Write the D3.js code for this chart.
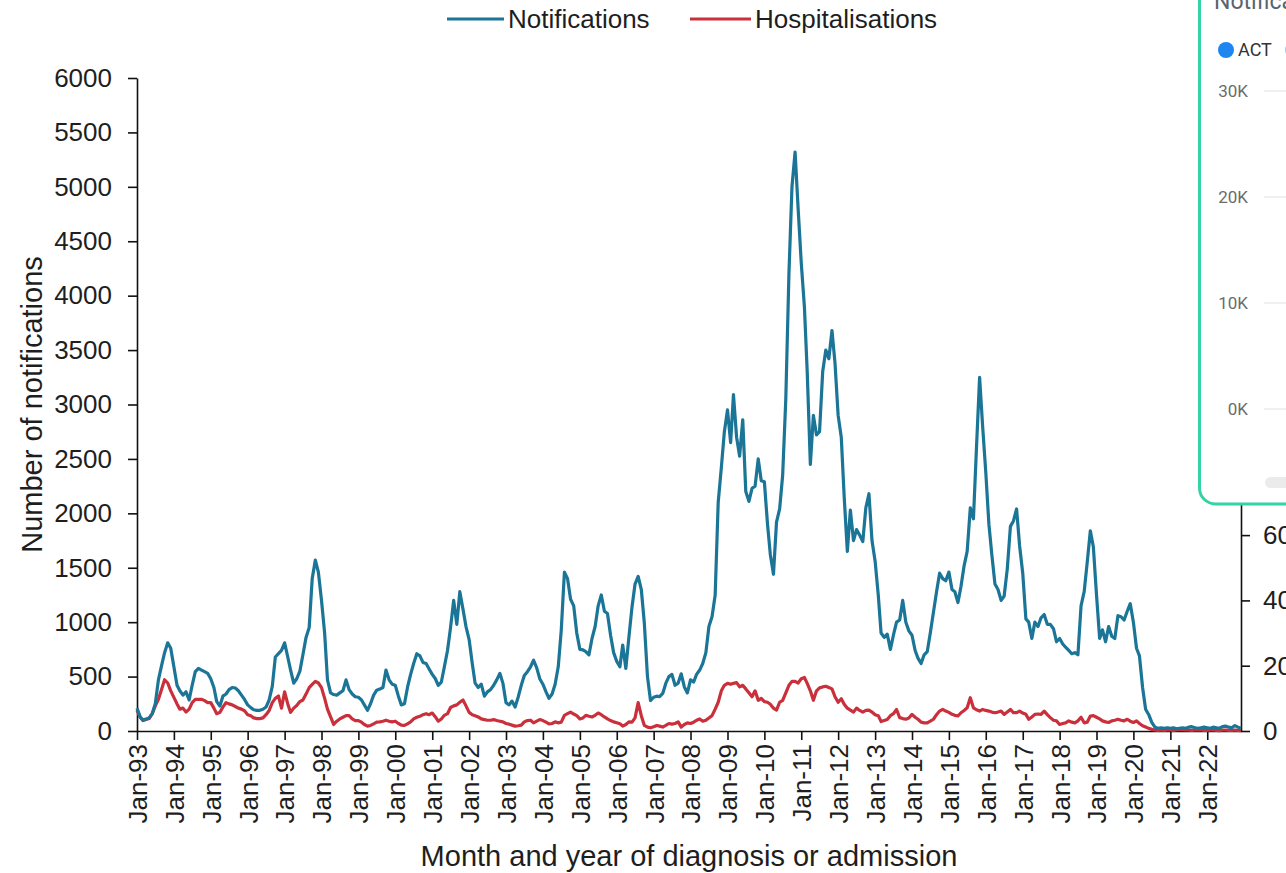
<!DOCTYPE html>
<html>
<head>
<meta charset="utf-8">
<script src="https://cdn.jsdelivr.net/npm/d3@7"></script>
<style>
  html, body { margin: 0; padding: 0; background: #fff; overflow: hidden; }
  svg { display: block; font-family: "Liberation Sans", Arial, sans-serif; }
</style>
</head>
<body>
<svg id="chart" width="1286" height="873"></svg>
<script>
// Monthly counts, January 1993 to December 2022 (one row per year)
const notifications = [
  210, 130, 100, 110, 120, 160, 250, 470, 600, 720, 810, 760,       // 1993
  590, 420, 370, 330, 360, 285, 420, 545, 575, 560, 545, 530,       // 1994
  480, 400, 270, 230, 320, 340, 380, 400, 395, 370, 330, 290,       // 1995
  240, 215, 195, 190, 190, 200, 220, 285, 410, 680, 710, 740,       // 1996
  810, 680, 560, 440, 480, 550, 700, 860, 950, 1400, 1570, 1460,    // 1997
  1200, 900, 470, 350, 335, 330, 350, 370, 470, 380, 340, 315,      // 1998
  310, 285, 240, 190, 250, 330, 375, 385, 400, 560, 470, 430,       // 1999
  420, 320, 240, 250, 400, 520, 620, 710, 690, 630, 620, 570,       // 2000
  520, 480, 420, 450, 590, 740, 950, 1200, 980, 1280, 1120, 960,    // 2001
  840, 620, 440, 400, 430, 320, 360, 380, 420, 470, 530, 440,       // 2002
  260, 240, 275, 220, 310, 420, 510, 545, 590, 650, 580, 480,       // 2003
  430, 360, 300, 340, 430, 590, 930, 1460, 1400, 1210, 1150, 900,   // 2004
  750, 745, 730, 700, 850, 960, 1150, 1250, 1100, 1080, 880, 720,   // 2005
  640, 590, 790, 575, 860, 1140, 1350, 1420, 1300, 990, 500, 280,   // 2006
  310, 320, 315, 345, 437, 500, 520, 420, 440, 525, 405, 350,       // 2007
  470, 450, 520, 560, 620, 720, 960, 1050, 1250, 2100, 2420, 2750,  // 2008
  2950, 2650, 3090, 2700, 2525, 2860, 2200, 2110, 2230, 2250, 2500, 2300, // 2009
  2290, 1900, 1620, 1440, 1920, 2040, 2350, 3050, 4200, 5000, 5320, 4800, // 2010
  4300, 3900, 3300, 2450, 2900, 2720, 2750, 3300, 3500, 3420, 3680, 3380, // 2011
  2900, 2700, 2150, 1650, 2030, 1750, 1850, 1800, 1740, 2050, 2180, 1750, // 2012
  1560, 1250, 900, 860, 890, 750, 880, 1000, 1020, 1200, 1000, 920,       // 2013
  880, 740, 670, 620, 700, 730, 900, 1090, 1280, 1450, 1400, 1380,        // 2014
  1460, 1300, 1280, 1180, 1330, 1520, 1650, 2050, 1950, 2600, 3250, 2800, // 2015
  2380, 1900, 1620, 1350, 1300, 1200, 1240, 1490, 1880, 1930, 2040, 1700, // 2016
  1450, 1030, 1000, 850, 1000, 960, 1040, 1070, 980, 980, 940, 820,       // 2017
  850, 800, 770, 740, 710, 720, 700, 1150, 1280, 1550, 1840, 1690,        // 2018
  1250, 850, 930, 820, 960, 870, 850, 1060, 1050, 1020, 1100, 1170,       // 2019
  1000, 760, 690, 400, 200, 150, 80, 35, 25, 30, 25, 30,                  // 2020
  25, 30, 20, 25, 30, 25, 35, 40, 30, 25, 30, 35,                         // 2021
  30, 25, 35, 30, 25, 40, 45, 35, 30, 50, 35, 25                          // 2022
];

const hospitalisations = [
  63, 42, 32, 35, 38, 53, 77, 97, 127, 157, 147, 123,       // 1993
  103, 83, 67, 70, 58, 67, 87, 97, 97, 97, 93, 87,          // 1994
  87, 70, 53, 57, 73, 87, 83, 80, 75, 70, 67, 62,           // 1995
  50, 47, 40, 38, 38, 40, 50, 63, 87, 100, 107, 70,         // 1996
  120, 83, 57, 70, 78, 90, 95, 113, 133, 143, 152, 147,     // 1997
  133, 100, 67, 43, 20, 30, 37, 42, 47, 47, 37, 32,         // 1998
  32, 27, 20, 15, 17, 22, 27, 28, 30, 33, 30, 28,           // 1999
  30, 23, 18, 17, 22, 28, 37, 42, 45, 50, 53, 50,           // 2000
  55, 43, 30, 37, 48, 53, 72, 77, 80, 88, 95, 77,           // 2001
  57, 50, 47, 43, 37, 35, 33, 33, 35, 32, 30, 28,           // 2002
  23, 21, 18, 15, 16, 18, 28, 32, 33, 25, 30, 35,           // 2003
  32, 27, 22, 23, 28, 25, 27, 48, 53, 58, 52, 47,           // 2004
  37, 40, 48, 45, 43, 48, 55, 50, 43, 37, 32, 28,           // 2005
  25, 22, 15, 20, 28, 27, 40, 87, 47, 17, 12, 10,           // 2006
  13, 17, 15, 12, 17, 23, 21, 23, 28, 12, 20, 25,           // 2007
  23, 27, 33, 37, 30, 33, 40, 47, 67, 88, 123, 140,         // 2008
  146, 143, 146, 148, 135, 140, 129, 117, 105, 123, 94, 100, // 2009
  90, 88, 82, 70, 64, 88, 94, 117, 140, 152, 152, 147,      // 2010
  160, 164, 146, 123, 94, 123, 132, 135, 137, 133, 129, 105, // 2011
  88, 99, 82, 70, 64, 58, 70, 63, 58, 63, 64, 58,           // 2012
  50, 47, 29, 32, 35, 47, 53, 66, 41, 38, 36, 40,           // 2013
  51, 42, 36, 27, 25, 25, 30, 36, 50, 61, 66, 61,           // 2014
  57, 51, 48, 46, 56, 63, 71, 102, 71, 65, 61, 66,          // 2015
  63, 61, 58, 56, 58, 61, 51, 58, 66, 56, 56, 61,           // 2016
  55, 51, 36, 43, 51, 52, 51, 61, 50, 41, 33, 31,           // 2017
  20, 23, 25, 31, 27, 25, 31, 42, 25, 27, 46, 47,           // 2018
  42, 37, 31, 28, 26, 31, 33, 36, 33, 31, 36, 30,           // 2019
  26, 31, 23, 16, 12, 8, 5, 3, 2, 3, 2, 3,                  // 2020
  3, 2, 3, 5, 4, 3, 3, 2, 3, 4, 3, 2,                       // 2021
  2, 3, 3, 2, 1, 3, 3, 2, 2, 3, 2, 1                        // 2022
];

const seriesNames = ["Notifications", "Hospitalisations"];
const seriesColors = ["#1b7596", "#c9303b"];
const leftTicks = [0, 500, 1000, 1500, 2000, 2500, 3000, 3500, 4000, 4500, 5000, 5500, 6000];
// right-hand (hospitalisations) axis runs 0-2000; the labels above 600 sit under the inset
const rightTicks = [0, 200, 400, 600];
const yearTicks = ["1993","1994","1995","1996","1997","1998","1999","2000","2001","2002",
  "2003","2004","2005","2006","2007","2008","2009","2010","2011","2012",
  "2013","2014","2015","2016","2017","2018","2019","2020","2021","2022"];

// Inset widget (state breakdown) that sits over the top-right corner
const insetTicks = [0, 10000, 20000, 30000];
const insetTickLabels = ["0K", "10K", "20K", "30K"];
const insetSeries = ["ACT"];

const months = d3.timeMonth.range(new Date(1993, 0, 1), new Date(2023, 0, 1));
const textColor = "#1e1e1e";

const svg = d3.select("#chart");
svg.append("rect").attr("width", 1286).attr("height", 873).attr("fill", "#fff");

const x = d3.scaleTime().domain([months[0], months[months.length - 1]]).range([137, 1241]);
const yL = d3.scaleLinear().domain([0, 6000]).range([731, 78]);
const yR = d3.scaleLinear().domain([0, 2000]).range([731, 78]);

function styleAxis(g) {
  g.select(".domain").attr("stroke", "#111").attr("stroke-width", 1.6);
  g.selectAll(".tick line").attr("stroke", "#111").attr("stroke-width", 1.6);
  g.selectAll(".tick text").attr("fill", textColor).style("font-size", "26px");
}

// Left axis
svg.append("g")
  .attr("transform", "translate(137,0)")
  .call(d3.axisLeft(yL).tickValues(leftTicks).tickFormat(d3.format("d"))
    .tickSize(9).tickSizeOuter(0).tickPadding(16))
  .call(styleAxis);

// Right axis
svg.append("g")
  .attr("transform", "translate(1241,0)")
  .call(d3.axisRight(yR).tickValues(rightTicks).tickFormat(d3.format("d"))
    .tickSize(9).tickSizeOuter(0).tickPadding(13))
  .call(styleAxis);

// Bottom axis with rotated month labels
const xAxisG = svg.append("g")
  .attr("transform", "translate(0,731)")
  .call(d3.axisBottom(x)
    .tickValues(yearTicks.map(y => new Date(+y, 0, 1)))
    .tickFormat(d3.timeFormat("%b-%y"))
    .tickSize(9).tickSizeOuter(0))
  .call(styleAxis);
xAxisG.selectAll(".tick text")
  .attr("transform", "rotate(-90)")
  .attr("text-anchor", "end")
  .attr("x", -13)
  .attr("y", 0)
  .attr("dy", "0.36em");

// Series lines (hospitalisations underneath)
const lineR = d3.line().x((d, i) => x(months[i])).y(d => yR(d));
const lineL = d3.line().x((d, i) => x(months[i])).y(d => yL(d));

svg.append("path")
  .datum(hospitalisations)
  .attr("d", lineR)
  .attr("fill", "none")
  .attr("stroke", seriesColors[1])
  .attr("stroke-width", 3.2)
  .attr("stroke-linejoin", "round");

svg.append("path")
  .datum(notifications)
  .attr("d", lineL)
  .attr("fill", "none")
  .attr("stroke", seriesColors[0])
  .attr("stroke-width", 3.2)
  .attr("stroke-linejoin", "round");

// Axis titles
svg.append("text")
  .attr("transform", "rotate(-90)")
  .attr("x", -404.5).attr("y", 42)
  .attr("text-anchor", "middle")
  .attr("fill", textColor)
  .style("font-size", "29px")
  .text("Number of notifications");

svg.append("text")
  .attr("x", 689).attr("y", 866)
  .attr("text-anchor", "middle")
  .attr("fill", textColor)
  .style("font-size", "29px")
  .text("Month and year of diagnosis or admission");

// Legend
const legendItems = [
  { x1: 447, x2: 504, tx: 508 },
  { x1: 690, x2: 751, tx: 755 }
];
legendItems.forEach((it, i) => {
  svg.append("line")
    .attr("x1", it.x1).attr("x2", it.x2).attr("y1", 19).attr("y2", 19)
    .attr("stroke", seriesColors[i]).attr("stroke-width", 3);
  svg.append("text")
    .attr("x", it.tx).attr("y", 19).attr("dy", "0.35em")
    .attr("fill", textColor)
    .style("font-size", "26px")
    .text(seriesNames[i]);
});

// Inset widget over the top-right corner
const insetFont = "Roboto, 'Noto Sans', sans-serif";
const inset = svg.append("g");
inset.append("rect")
  .attr("x", 1199.5).attr("y", -30).attr("width", 140).attr("height", 534)
  .attr("rx", 16).attr("fill", "#fff")
  .attr("stroke", "#34d3a4").attr("stroke-width", 3);
inset.append("text")
  .attr("x", 1214).attr("y", 9)
  .attr("fill", "#5a6470").style("font-size", "23px")
  .style("font-family", insetFont)
  .text("Notifications");
inset.append("circle").attr("cx", 1226).attr("cy", 50).attr("r", 8).attr("fill", "#1e86f0");
inset.append("text")
  .attr("x", 1238).attr("y", 50).attr("dy", "0.36em")
  .attr("fill", "#333").style("font-size", "18px")
  .style("font-family", insetFont)
  .text(insetSeries[0]);
inset.append("circle").attr("cx", 1293).attr("cy", 50).attr("r", 8).attr("fill", "#9cc8f5");

const yInset = d3.scaleLinear().domain([0, 30000]).range([409, 91]);
insetTicks.forEach((t, i) => {
  inset.append("line")
    .attr("x1", 1264).attr("x2", 1290)
    .attr("y1", yInset(t)).attr("y2", yInset(t))
    .attr("stroke", "#e2e2e2").attr("stroke-width", 1);
  inset.append("text")
    .attr("x", 1248).attr("y", yInset(t)).attr("dy", "0.36em")
    .attr("text-anchor", "end")
    .attr("fill", "#6b6b6b").style("font-size", "17px")
    .style("font-family", insetFont)
    .text(insetTickLabels[i]);
});
inset.append("rect")
  .attr("x", 1265).attr("y", 477).attr("width", 40).attr("height", 11)
  .attr("rx", 5.5).attr("fill", "#ebebeb");
</script>
</body>
</html>
